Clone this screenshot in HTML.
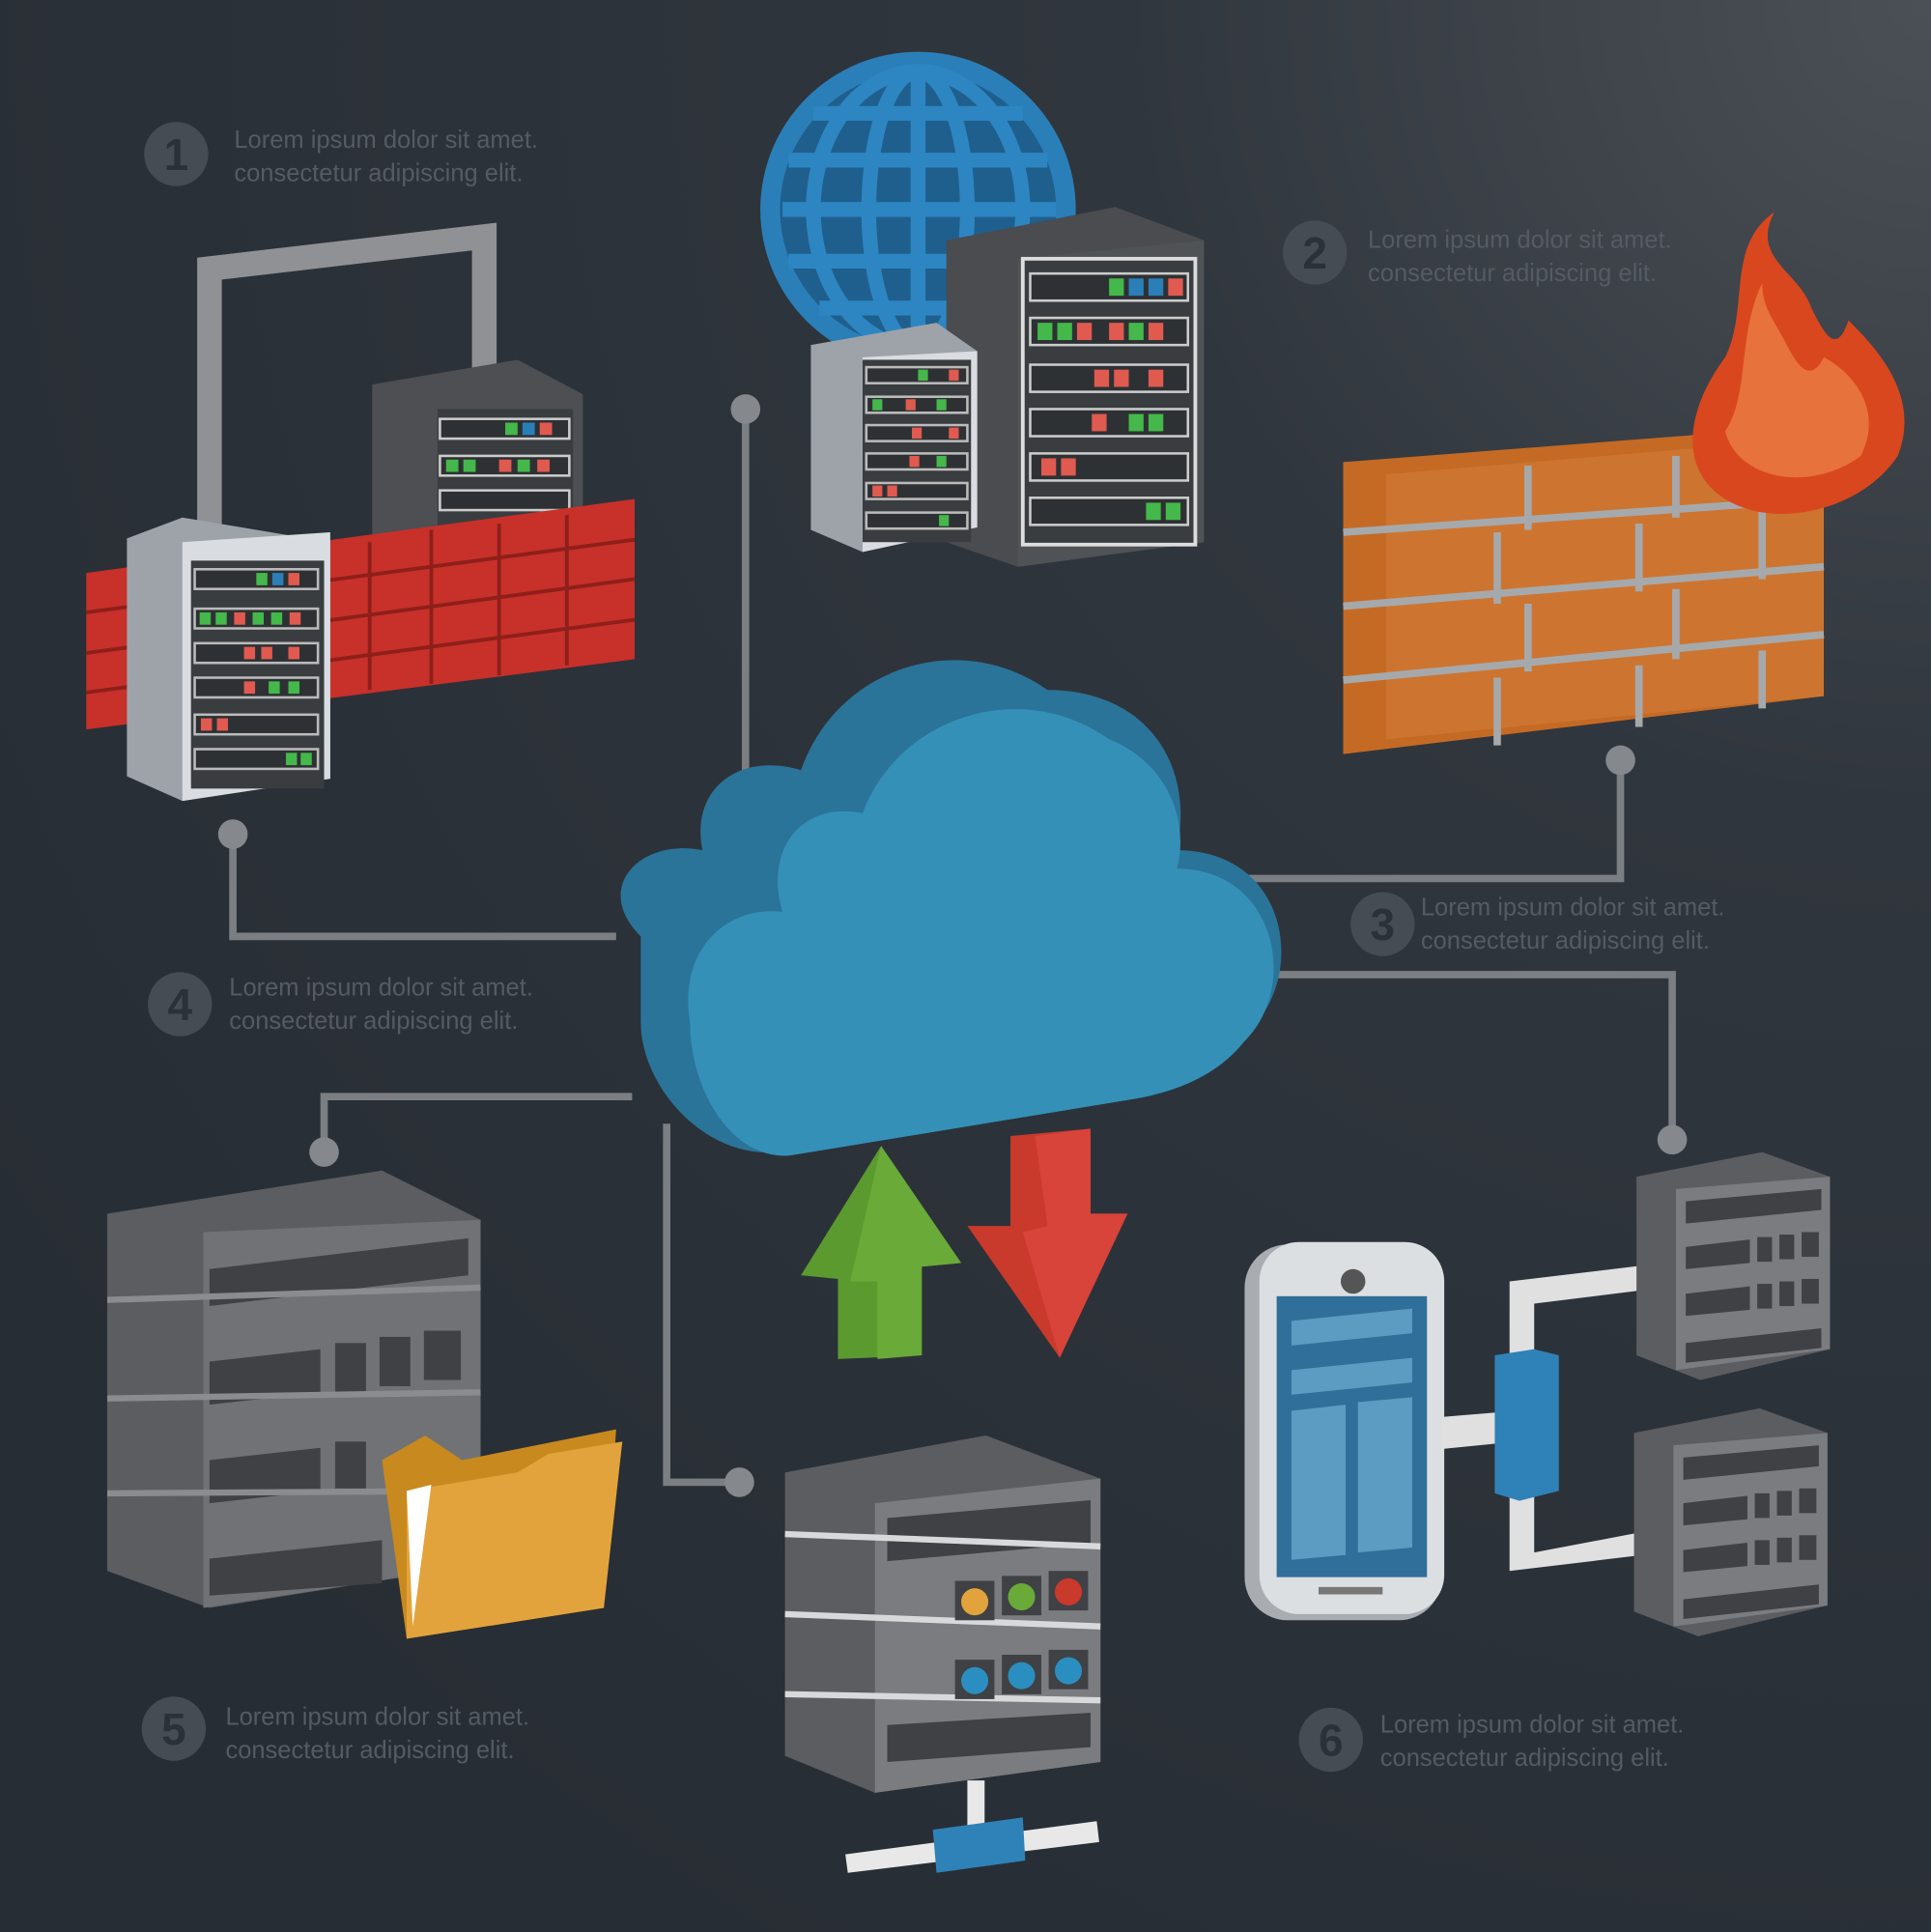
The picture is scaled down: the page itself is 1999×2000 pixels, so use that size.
<!DOCTYPE html>
<html><head><meta charset="utf-8"><style>
html,body{margin:0;padding:0;background:#2b3138;}
svg{display:block}
text{font-family:"Liberation Sans",sans-serif;}
</style></head><body>
<svg width="1999" height="2000" viewBox="0 0 1567 1568" preserveAspectRatio="none" xmlns="http://www.w3.org/2000/svg">
<defs>
<radialGradient id="bg" cx="1" cy="0" r="1.2">
<stop offset="0" stop-color="#4a5055"/><stop offset="0.35" stop-color="#30363d"/><stop offset="1" stop-color="#272d34"/>
</radialGradient>
<g id="slot"><rect width="100" height="16" fill="#3a3d40" stroke="#ddd" stroke-width="3"/></g>
</defs>
<rect width="1567" height="1568" fill="url(#bg)"/>

<!-- connectors -->
<g stroke="#7b7e82" stroke-width="6" fill="none">
<polyline points="605,332 605,630"/>
<polyline points="189,677 189,760 500,760"/>
<polyline points="1315,617 1315,713 995,713"/>
<polyline points="1028,791 1357,791 1357,925"/>
<polyline points="513,890 263,890 263,935"/>
<polyline points="541,912 541,1203 600,1203"/>
</g>
<g fill="#85888c">
<circle cx="605" cy="332" r="12"/><circle cx="189" cy="677" r="12"/><circle cx="1315" cy="617" r="12"/>
<circle cx="1357" cy="925" r="12"/><circle cx="263" cy="935" r="12"/><circle cx="600" cy="1203" r="12"/>
</g>

<!-- labels -->
<g fill="#555b62" font-size="20">
<circle cx="143" cy="125" r="26" fill="#464c53"/><text x="143" y="138" font-size="36" font-weight="bold" text-anchor="middle" fill="#2b3138">1</text>
<text x="190" y="120">Lorem ipsum dolor sit amet.</text><text x="190" y="147">consectetur adipiscing elit.</text>
<circle cx="1067" cy="205" r="26" fill="#464c53"/><text x="1067" y="218" font-size="36" font-weight="bold" text-anchor="middle" fill="#2b3138">2</text>
<text x="1110" y="201">Lorem ipsum dolor sit amet.</text><text x="1110" y="228">consectetur adipiscing elit.</text>
<circle cx="1122" cy="750" r="26" fill="#464c53"/><text x="1122" y="763" font-size="36" font-weight="bold" text-anchor="middle" fill="#2b3138">3</text>
<text x="1153" y="743">Lorem ipsum dolor sit amet.</text><text x="1153" y="770">consectetur adipiscing elit.</text>
<circle cx="146" cy="815" r="26" fill="#464c53"/><text x="146" y="828" font-size="36" font-weight="bold" text-anchor="middle" fill="#2b3138">4</text>
<text x="186" y="808">Lorem ipsum dolor sit amet.</text><text x="186" y="835">consectetur adipiscing elit.</text>
<circle cx="141" cy="1403" r="26" fill="#464c53"/><text x="141" y="1416" font-size="36" font-weight="bold" text-anchor="middle" fill="#2b3138">5</text>
<text x="183" y="1400">Lorem ipsum dolor sit amet.</text><text x="183" y="1427">consectetur adipiscing elit.</text>
<circle cx="1080" cy="1412" r="26" fill="#464c53"/><text x="1080" y="1425" font-size="36" font-weight="bold" text-anchor="middle" fill="#2b3138">6</text>
<text x="1120" y="1406">Lorem ipsum dolor sit amet.</text><text x="1120" y="1433">consectetur adipiscing elit.</text>
</g>

<!-- Top-left: firewall with servers -->
<polyline points="170,445 170,218 393,192 393,300" fill="none" stroke="#8f9194" stroke-width="20"/>
<polygon points="302,312 420,292 473,320 473,420 302,440" fill="#4d4f52"/>
<rect x="355" y="332" width="110" height="100" fill="#3a3d40"/>
<g>
<rect x="357" y="340" width="105" height="16" fill="#2e3134" stroke="#ccc" stroke-width="2"/>
<rect x="357" y="370" width="105" height="16" fill="#2e3134" stroke="#ccc" stroke-width="2"/>
<rect x="357" y="398" width="105" height="16" fill="#2e3134" stroke="#ccc" stroke-width="2"/>
<rect x="410" y="343" width="10" height="10" fill="#44b84a"/><rect x="424" y="343" width="10" height="10" fill="#2a7fb8"/><rect x="438" y="343" width="10" height="10" fill="#e05a50"/>
<rect x="362" y="373" width="10" height="10" fill="#44b84a"/><rect x="376" y="373" width="10" height="10" fill="#44b84a"/><rect x="405" y="373" width="10" height="10" fill="#e05a50"/><rect x="420" y="373" width="10" height="10" fill="#44b84a"/><rect x="436" y="373" width="10" height="10" fill="#e05a50"/>
</g>
<!-- red bricks -->
<polygon points="70,465 515,405 515,535 70,592" fill="#c8302a"/>
<g stroke="#8e1f1a" stroke-width="3">
<line x1="70" y1="497" x2="515" y2="438"/><line x1="70" y1="530" x2="515" y2="470"/><line x1="70" y1="562" x2="515" y2="503"/>
</g>
<g stroke="#8e1f1a" stroke-width="3">
<line x1="300" y1="440" x2="300" y2="560"/><line x1="350" y1="430" x2="350" y2="555"/><line x1="405" y1="425" x2="405" y2="548"/><line x1="460" y1="418" x2="460" y2="540"/>
</g>
<!-- front server -->
<polygon points="103,437 148,420 268,440 268,632 148,650 103,630" fill="#9ea3aa"/>
<polygon points="148,440 268,432 268,632 148,650" fill="#d9dde2"/>
<rect x="155" y="455" width="108" height="185" fill="#3a3d40"/>
<g fill="#2e3134" stroke="#bbb" stroke-width="2">
<rect x="158" y="462" width="100" height="16"/><rect x="158" y="494" width="100" height="16"/><rect x="158" y="522" width="100" height="16"/><rect x="158" y="550" width="100" height="16"/><rect x="158" y="580" width="100" height="16"/><rect x="158" y="608" width="100" height="16"/>
</g>
<rect x="208" y="465" width="9" height="10" fill="#44b84a"/><rect x="221" y="465" width="9" height="10" fill="#2a7fb8"/><rect x="234" y="465" width="9" height="10" fill="#e05a50"/>
<rect x="162" y="497" width="9" height="10" fill="#44b84a"/><rect x="175" y="497" width="9" height="10" fill="#44b84a"/><rect x="190" y="497" width="9" height="10" fill="#e05a50"/><rect x="205" y="497" width="9" height="10" fill="#44b84a"/><rect x="220" y="497" width="9" height="10" fill="#44b84a"/><rect x="235" y="497" width="9" height="10" fill="#e05a50"/>
<rect x="198" y="525" width="9" height="10" fill="#e05a50"/><rect x="212" y="525" width="9" height="10" fill="#e05a50"/><rect x="234" y="525" width="9" height="10" fill="#e05a50"/>
<rect x="198" y="553" width="9" height="10" fill="#e05a50"/><rect x="218" y="553" width="9" height="10" fill="#44b84a"/><rect x="234" y="553" width="9" height="10" fill="#44b84a"/>
<rect x="163" y="583" width="9" height="10" fill="#e05a50"/><rect x="176" y="583" width="9" height="10" fill="#e05a50"/>
<rect x="232" y="611" width="9" height="10" fill="#44b84a"/><rect x="244" y="611" width="9" height="10" fill="#44b84a"/>

<!-- Globe -->
<circle cx="745" cy="170" r="128" fill="#2a7fb8"/>
<circle cx="745" cy="170" r="112" fill="#1f5f8e"/>
<g stroke="#2d86c2" stroke-width="12" fill="none">
<ellipse cx="745" cy="170" rx="40" ry="112"/><ellipse cx="745" cy="170" rx="85" ry="112"/>
<line x1="745" y1="58" x2="745" y2="282"/>
<line x1="640" y1="130" x2="850" y2="130"/><line x1="635" y1="170" x2="857" y2="170"/><line x1="640" y1="212" x2="850" y2="212"/><line x1="660" y1="92" x2="830" y2="92"/><line x1="665" y1="250" x2="825" y2="250"/>
</g>
<!-- top servers -->
<polygon points="768,195 905,168 977,195 977,440 826,460 768,440" fill="#4a4c4f"/>
<polygon points="826,210 977,195 977,440 826,460" fill="#505356"/>
<rect x="830" y="210" width="140" height="232" fill="#3a3d40" stroke="#ddd" stroke-width="3"/>
<g fill="#2e3134" stroke="#ccc" stroke-width="2">
<rect x="836" y="222" width="128" height="22"/><rect x="836" y="258" width="128" height="22"/><rect x="836" y="296" width="128" height="22"/><rect x="836" y="332" width="128" height="22"/><rect x="836" y="368" width="128" height="22"/><rect x="836" y="404" width="128" height="22"/>
</g>
<rect x="900" y="226" width="12" height="14" fill="#44b84a"/><rect x="916" y="226" width="12" height="14" fill="#2a7fb8"/><rect x="932" y="226" width="12" height="14" fill="#2a7fb8"/><rect x="948" y="226" width="12" height="14" fill="#e05a50"/>
<rect x="842" y="262" width="12" height="14" fill="#44b84a"/><rect x="858" y="262" width="12" height="14" fill="#44b84a"/><rect x="874" y="262" width="12" height="14" fill="#e05a50"/><rect x="900" y="262" width="12" height="14" fill="#e05a50"/><rect x="916" y="262" width="12" height="14" fill="#44b84a"/><rect x="932" y="262" width="12" height="14" fill="#e05a50"/>
<rect x="888" y="300" width="12" height="14" fill="#e05a50"/><rect x="904" y="300" width="12" height="14" fill="#e05a50"/><rect x="932" y="300" width="12" height="14" fill="#e05a50"/>
<rect x="886" y="336" width="12" height="14" fill="#e05a50"/><rect x="916" y="336" width="12" height="14" fill="#44b84a"/><rect x="932" y="336" width="12" height="14" fill="#44b84a"/>
<rect x="845" y="372" width="12" height="14" fill="#e05a50"/><rect x="861" y="372" width="12" height="14" fill="#e05a50"/>
<rect x="930" y="408" width="12" height="14" fill="#44b84a"/><rect x="946" y="408" width="12" height="14" fill="#44b84a"/>
<polygon points="658,280 760,262 793,285 793,428 700,448 658,430" fill="#9ea3aa"/>
<polygon points="700,290 793,285 793,428 700,448" fill="#d9dde2"/>
<rect x="700" y="292" width="88" height="148" fill="#3a3d40"/>
<g fill="#2e3134" stroke="#bbb" stroke-width="2">
<rect x="703" y="298" width="82" height="13"/><rect x="703" y="322" width="82" height="13"/><rect x="703" y="345" width="82" height="13"/><rect x="703" y="368" width="82" height="13"/><rect x="703" y="392" width="82" height="13"/><rect x="703" y="416" width="82" height="13"/>
</g>
<rect x="745" y="300" width="8" height="9" fill="#44b84a"/><rect x="770" y="300" width="8" height="9" fill="#e05a50"/>
<rect x="708" y="324" width="8" height="9" fill="#44b84a"/><rect x="735" y="324" width="8" height="9" fill="#e05a50"/><rect x="760" y="324" width="8" height="9" fill="#44b84a"/>
<rect x="740" y="347" width="8" height="9" fill="#e05a50"/><rect x="770" y="347" width="8" height="9" fill="#e05a50"/>
<rect x="738" y="370" width="8" height="9" fill="#e05a50"/><rect x="760" y="370" width="8" height="9" fill="#44b84a"/>
<rect x="708" y="394" width="8" height="9" fill="#e05a50"/><rect x="720" y="394" width="8" height="9" fill="#e05a50"/>
<rect x="762" y="418" width="8" height="9" fill="#44b84a"/>

<!-- Orange wall -->
<polygon points="1090,375 1480,345 1480,565 1090,612" fill="#c56a24"/>
<polygon points="1125,385 1480,355 1480,565 1125,600" fill="#cd7530"/>
<g stroke="#a6a9ab" stroke-width="6">
<line x1="1090" y1="432" x2="1480" y2="405"/><line x1="1090" y1="492" x2="1480" y2="460"/><line x1="1090" y1="552" x2="1480" y2="515"/>
<line x1="1240" y1="378" x2="1240" y2="430"/><line x1="1360" y1="370" x2="1360" y2="420"/>
<line x1="1215" y1="432" x2="1215" y2="490"/><line x1="1330" y1="425" x2="1330" y2="480"/><line x1="1430" y1="415" x2="1430" y2="470"/>
<line x1="1240" y1="490" x2="1240" y2="545"/><line x1="1360" y1="478" x2="1360" y2="535"/>
<line x1="1215" y1="550" x2="1215" y2="605"/><line x1="1330" y1="540" x2="1330" y2="590"/><line x1="1430" y1="528" x2="1430" y2="575"/>
</g>
<!-- flame -->
<path d="M1440,172 C1400,200 1420,250 1400,290 C1370,330 1360,380 1400,405 C1440,430 1510,415 1540,370 C1560,320 1520,280 1500,260 C1490,290 1480,270 1470,250 C1460,220 1420,210 1440,172 Z" fill="#d9471f"/>
<path d="M1430,230 C1410,270 1420,320 1400,350 C1410,390 1470,400 1510,370 C1530,330 1500,300 1480,290 C1470,310 1460,300 1450,280 C1440,260 1430,250 1430,230 Z" fill="#e8723c"/>

<!-- Cloud -->
<path d="M520,760 C480,720 520,680 570,690 C560,640 600,610 650,625 C680,540 780,510 850,560 C930,560 970,620 955,690 C1040,690 1060,780 1020,830 C1000,860 960,880 920,890 L630,935 C570,940 520,880 520,830 Z" fill="#2a7499"/>
<path d="M560,830 C550,770 590,735 635,740 C620,690 650,650 700,660 C730,580 830,550 900,600 C950,620 965,670 955,705 C1035,705 1055,800 1010,845 C990,870 960,885 920,892 L640,938 C590,940 560,880 560,830 Z" fill="#3590b8"/>

<!-- Arrows -->
<polygon points="650,1035 715,930 780,1025 748,1028 748,1100 680,1103 680,1038" fill="#5b9a2e"/>
<polygon points="715,930 780,1025 748,1028 748,1100 712,1103 712,1040 690,1040" fill="#6aaa38"/>
<polygon points="820,922 885,916 885,985 915,985 860,1102 785,995 820,995" fill="#c9392c"/>
<polygon points="840,922 885,916 885,985 915,985 860,1102 830,1000 850,995" fill="#d8433a"/>

<!-- Bottom-left big server -->
<polygon points="87,985 310,950 390,990 390,1270 170,1305 87,1275" fill="#5b5d60"/>
<polygon points="165,1000 390,990 390,1270 165,1305" fill="#707275"/>
<g fill="#3f4144">
<polygon points="170,1030 380,1005 380,1035 170,1060"/>
<polygon points="170,1105 260,1095 260,1130 170,1140"/><rect x="272" y="1090" width="25" height="40"/><rect x="308" y="1085" width="25" height="40"/><rect x="344" y="1080" width="30" height="40"/>
<polygon points="170,1185 260,1175 260,1210 170,1220"/><rect x="272" y="1170" width="25" height="38"/>
<polygon points="170,1265 310,1250 310,1285 170,1295"/>
</g>
<g stroke="#8a8c8f" stroke-width="5"><line x1="87" y1="1055" x2="390" y2="1045"/><line x1="87" y1="1135" x2="390" y2="1130"/><line x1="87" y1="1212" x2="390" y2="1210"/></g>
<!-- folder -->
<polygon points="310,1185 345,1165 375,1185 500,1160 490,1305 330,1330" fill="#c8891e"/>
<polygon points="330,1210 420,1195 445,1180 505,1170 490,1305 330,1330" fill="#e3a33c"/>
<polygon points="330,1210 350,1205 335,1320" fill="#fff"/>

<!-- Bottom center server -->
<polygon points="637,1195 800,1165 893,1200 893,1430 710,1455 637,1425" fill="#5b5d60"/>
<polygon points="710,1220 893,1200 893,1430 710,1455" fill="#7a7c7f"/>
<rect x="720" y="1225" width="165" height="35" fill="#3f4144" transform="skewY(-5) translate(0,70)"/>
<g stroke="#d8d9da" stroke-width="5"><line x1="637" y1="1245" x2="893" y2="1255"/><line x1="637" y1="1310" x2="893" y2="1320"/><line x1="637" y1="1375" x2="893" y2="1380"/></g>
<rect x="775" y="1283" width="32" height="32" fill="#3f4144"/><circle cx="791" cy="1300" r="11" fill="#e3a33c"/>
<rect x="813" y="1279" width="32" height="32" fill="#3f4144"/><circle cx="829" cy="1296" r="11" fill="#6aaa38"/>
<rect x="851" y="1275" width="32" height="32" fill="#3f4144"/><circle cx="867" cy="1292" r="11" fill="#c9392c"/>
<rect x="775" y="1347" width="32" height="32" fill="#3f4144"/><circle cx="791" cy="1364" r="11" fill="#2a8fc0"/>
<rect x="813" y="1343" width="32" height="32" fill="#3f4144"/><circle cx="829" cy="1360" r="11" fill="#2a8fc0"/>
<rect x="851" y="1339" width="32" height="32" fill="#3f4144"/><circle cx="867" cy="1356" r="11" fill="#2a8fc0"/>
<polygon points="720,1400 885,1390 885,1418 720,1430" fill="#3f4144"/>
<rect x="785" y="1445" width="14" height="40" fill="#e8e8e8"/>
<polygon points="686,1505 890,1478 892,1495 688,1520" fill="#e8e8e8"/>
<polygon points="757,1485 830,1475 832,1510 760,1520" fill="#2f82b8"/>

<!-- Phone -->
<rect x="1010" y="1010" width="160" height="305" rx="35" fill="#a9adb2"/>
<rect x="1022" y="1008" width="150" height="302" rx="32" fill="#dcdfe2"/>
<circle cx="1098" cy="1040" r="10" fill="#555"/>
<rect x="1036" y="1052" width="122" height="228" fill="#2f6f9a"/>
<polygon points="1048,1072 1146,1062 1146,1082 1048,1092" fill="#5d9cc2"/>
<polygon points="1048,1112 1146,1102 1146,1122 1048,1132" fill="#5d9cc2"/>
<polygon points="1048,1145 1092,1140 1092,1262 1048,1266" fill="#5d9cc2"/>
<polygon points="1102,1138 1146,1134 1146,1256 1102,1260" fill="#5d9cc2"/>
<rect x="1070" y="1288" width="52" height="6" fill="#777"/>
<!-- connector bracket -->
<g fill="#e0e0e0">
<polygon points="1170,1150 1230,1145 1230,1170 1170,1176"/>
<polygon points="1225,1040 1350,1025 1350,1045 1245,1058 1245,1260 1350,1240 1350,1260 1225,1275"/>
</g>
<polygon points="1213,1100 1245,1095 1265,1100 1265,1210 1233,1218 1213,1212" fill="#2f82b8"/>

<!-- right small servers -->
<g>
<polygon points="1328,955 1430,935 1485,955 1485,1095 1380,1120 1328,1100" fill="#5b5d60"/>
<polygon points="1360,965 1485,955 1485,1095 1360,1112" fill="#7a7c7f"/>
<polygon points="1368,975 1478,965 1478,982 1368,993" fill="#3f4144"/>
<polygon points="1368,1012 1420,1006 1420,1025 1368,1030" fill="#3f4144"/><rect x="1426" y="1004" width="12" height="20" fill="#3f4144"/><rect x="1444" y="1002" width="12" height="20" fill="#3f4144"/><rect x="1462" y="1000" width="14" height="20" fill="#3f4144"/>
<polygon points="1368,1050 1420,1044 1420,1063 1368,1068" fill="#3f4144"/><rect x="1426" y="1042" width="12" height="20" fill="#3f4144"/><rect x="1444" y="1040" width="12" height="20" fill="#3f4144"/><rect x="1462" y="1038" width="14" height="20" fill="#3f4144"/>
<polygon points="1368,1090 1478,1078 1478,1094 1368,1106" fill="#3f4144"/>
</g>
<g transform="translate(-2,208)">
<polygon points="1328,955 1430,935 1485,955 1485,1095 1380,1120 1328,1100" fill="#5b5d60"/>
<polygon points="1360,965 1485,955 1485,1095 1360,1112" fill="#7a7c7f"/>
<polygon points="1368,975 1478,965 1478,982 1368,993" fill="#3f4144"/>
<polygon points="1368,1012 1420,1006 1420,1025 1368,1030" fill="#3f4144"/><rect x="1426" y="1004" width="12" height="20" fill="#3f4144"/><rect x="1444" y="1002" width="12" height="20" fill="#3f4144"/><rect x="1462" y="1000" width="14" height="20" fill="#3f4144"/>
<polygon points="1368,1050 1420,1044 1420,1063 1368,1068" fill="#3f4144"/><rect x="1426" y="1042" width="12" height="20" fill="#3f4144"/><rect x="1444" y="1040" width="12" height="20" fill="#3f4144"/><rect x="1462" y="1038" width="14" height="20" fill="#3f4144"/>
<polygon points="1368,1090 1478,1078 1478,1094 1368,1106" fill="#3f4144"/>
</g>
</svg>
</body></html>
